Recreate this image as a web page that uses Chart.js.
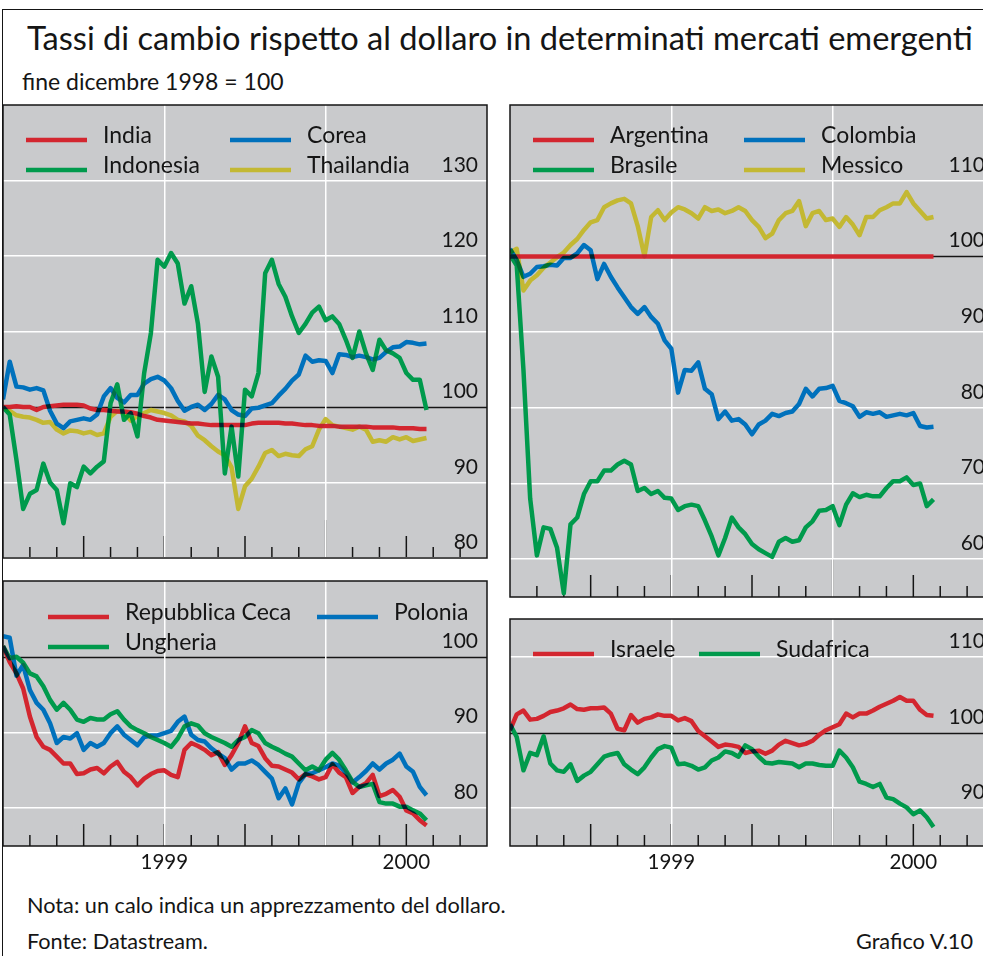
<!DOCTYPE html>
<html lang="it">
  <head>
    <meta charset="UTF-8" />
    <title>Tassi di cambio rispetto al dollaro</title>
    <style>
      html,
      body {
        margin: 0;
        padding: 0;
        width: 983px;
        height: 956px;
        overflow: hidden;
        background: #fff;
        font-family: Lato, sans-serif;
        color: #151515;
      }
      .frame {
        position: absolute;
        left: 2px;
        top: 9px;
        width: 1100px;
        height: 1100px;
        border: 1.5px solid #151515;
      }
      .txt {
        position: absolute;
        white-space: nowrap;
        line-height: 1;
      }
      canvas {
        position: absolute;
      }
    </style>
  </head>
  <body>
    <div class="frame"></div>
    <div class="txt" style="left: 27px; top: 21.5px; font-size: 32.6px">
      Tassi di cambio rispetto al dollaro in determinati mercati emergenti
    </div>
    <div class="txt" style="left: 22px; top: 70px; font-size: 23px">fine dicembre 1998 = 100</div>

    <canvas id="asia" width="492" height="461" style="left: -1px; top: 101px"></canvas>
    <canvas id="latam" width="492" height="500" style="left: 506px; top: 101px"></canvas>
    <canvas id="europa" width="492" height="303" style="left: -1px; top: 577px"></canvas>
    <canvas id="altri" width="492" height="265" style="left: 506px; top: 615px"></canvas>

    <div class="txt" style="left: 27px; top: 894.5px; font-size: 21.7px">
      Nota: un calo indica un apprezzamento del dollaro.
    </div>
    <div class="txt" style="left: 27px; top: 930.5px; font-size: 21.7px">Fonte: Datastream.</div>
    <div class="txt" style="right: 10px; top: 930.5px; font-size: 21.7px">Grafico V.10</div>

    <script src="https://cdn.jsdelivr.net/npm/chart.js"></script>
    <script>
      // months since end of December 1998, one point a week
      const weeks = [
        0, 0.25, 0.5, 0.75, 1, 1.25, 1.5, 1.75, 2, 2.25, 2.5, 2.75, 3, 3.25, 3.5, 3.75,
        4, 4.25, 4.5, 4.75, 5, 5.25, 5.5, 5.75, 6, 6.25, 6.5, 6.75, 7, 7.25, 7.5, 7.75,
        8, 8.25, 8.5, 8.75, 9, 9.25, 9.5, 9.75, 10, 10.25, 10.5, 10.75, 11, 11.25, 11.5, 11.75,
        12, 12.25, 12.5, 12.75, 13, 13.25, 13.5, 13.75, 14, 14.25, 14.5, 14.75, 15, 15.25, 15.5, 15.75,
      ];

      // Asia
      const india = [
        100, 100, 100.1, 100, 100, 99.6, 100, 100.1,
        100.2, 100.3, 100.3, 100.3, 100.2, 99.8, 99.6, 99.6,
        99.5, 99.4, 99.4, 99.3, 99.1, 98.8, 98.6, 98.3,
        98.2, 98.1, 98.0, 97.9, 97.8, 97.8, 97.7, 97.6,
        97.6, 97.6, 97.6, 97.6, 97.6, 97.8, 97.9, 97.9,
        97.9, 97.9, 97.8, 97.8, 97.7, 97.6, 97.6, 97.5,
        97.5, 97.5, 97.4, 97.4, 97.4, 97.4, 97.4, 97.3,
        97.3, 97.3, 97.3, 97.2, 97.2, 97.2, 97.1, 97.1,
      ];
      const corea = [
        101.0, 106.0, 102.7, 102.6, 102.3, 102.5, 102.2, 99.5,
        97.8, 97.2, 98.1, 98.3, 98.5, 98.3, 99.0, 101.4,
        102.5, 101.2, 100.6, 101.6, 101.6, 103.1, 103.7, 104.0,
        103.5, 102.5, 100.8, 99.5, 100.0, 100.3, 99.6, 100.4,
        101.6, 101.0, 99.6, 99.0, 98.8, 99.8, 99.9, 100.2,
        100.5, 101.5, 102.4, 103.5, 104.3, 106.8, 106.0, 106.2,
        106.1, 104.5, 107.0, 106.9, 106.6, 106.8, 106.6, 106.3,
        106.5, 107.3, 107.9, 108.0, 108.6, 108.5, 108.3, 108.4,
      ];
      const indonesia = [
        100, 99, 93, 86.5, 88.5, 89, 92.5, 90,
        89, 84.6, 89.9, 89.4, 92.1, 91.2, 92.1, 92.8,
        100.5, 103, 98.3, 99.2, 96.1, 104.5, 109.8, 119.5,
        118.6, 120.4, 119, 113.7, 116, 111, 102, 106.7,
        104, 91.2, 97.4, 90.8, 102.3, 101.4, 104.5, 117.7,
        119.5, 116.3, 114.6, 112, 109.8, 111, 112.5, 113.3,
        111.5, 112, 111, 108.9, 106.5, 110, 107.1, 104.9,
        108.9, 107.5, 107.1, 106.5, 104.5, 103.6, 103.6, 99.6,
      ];
      const thailandia = [
        100, 99.5, 98.9, 98.7, 98.6, 98.3, 97.9, 98.0,
        97.0, 96.5, 96.9, 96.8, 96.5, 96.7, 96.3, 96.5,
        98.7, 99.5, 99.2, 98.2, 98.8, 99.2, 99.6, 99.4,
        99.2, 98.9, 98.3, 98.1, 97.5, 96.2, 95.6, 94.8,
        94.1, 93.6, 92.0, 86.5, 89.5, 90.5, 92.1, 93.9,
        94.3, 93.5, 93.8, 93.6, 93.5, 94.4, 94.8, 97.0,
        98.4, 97.6, 97.4, 97.2, 97.0, 97.4, 97.0, 95.4,
        95.6, 95.4, 96.0, 95.7, 96.0, 95.5, 95.7, 95.9,
      ];

      // America latina
      const argentina = [
        100, 100, 100, 100, 100, 100, 100, 100,
        100, 100, 100, 100, 100, 100, 100, 100,
        100, 100, 100, 100, 100, 100, 100, 100,
        100, 100, 100, 100, 100, 100, 100, 100,
        100, 100, 100, 100, 100, 100, 100, 100,
        100, 100, 100, 100, 100, 100, 100, 100,
        100, 100, 100, 100, 100, 100, 100, 100,
        100, 100, 100, 100, 100, 100, 100, 100,
      ];
      const colombia = [
        101, 99.5, 97.3, 97.7, 98.6, 98.7, 98.9, 98.8,
        99.8, 99.8, 100.4, 101.5, 100.8, 97, 99, 97.3,
        95.9, 94.6, 93.3, 92.4, 93.3, 92, 91.1, 88.9,
        87.8, 82, 85, 84.9, 86, 82.5, 81.8, 78.5,
        79.5, 78.3, 78.5, 77.8, 76.5, 77.8, 78.3, 79.2,
        78.9, 79.3, 79.5, 80.5, 82.5, 81.5, 82.5, 82.6,
        82.9, 80.9, 80.6, 80.2, 78.8, 79.4, 79.2, 79.4,
        78.8, 79.0, 79.2, 79.0, 79.3, 77.6, 77.4, 77.5,
      ];
      const brasile = [
        100.2, 98.8, 85, 68, 60.5, 64.2, 64, 61.5,
        55.5, 64.6, 65.5, 68.6, 70.3, 70.3, 71.7, 71.7,
        72.5, 73, 72.5, 69, 69.4, 68.6, 69, 68.1,
        68, 66.5, 67, 67.2, 67, 65.1, 63, 60.5,
        62.8, 65.5, 64.2, 63.3, 62, 61.3, 60.8, 60.3,
        62.3, 62.8, 62.3, 62.5, 64.2, 65, 66.4, 66.5,
        67, 64.5, 67.2, 68.7, 68.2, 68.5, 68.3, 68.3,
        69.4, 70.3, 70.3, 70.8, 69.8, 70, 67, 67.9,
      ];
      const messico = [
        100.5, 101, 95.5, 96.8, 97.5, 98.5, 99.2, 99.9,
        100.5, 101.5, 102.3, 103.5, 104.5, 104.8, 106.5, 107,
        107.4, 107.6, 107, 104, 100, 105.2, 106.1, 104.8,
        105.8, 106.5, 106.2, 105.7, 105, 106.5, 106, 106.2,
        105.7, 106, 106.5, 106, 104.8, 103.9, 102.4, 103,
        104.8, 105.7, 106, 107.3, 104, 105.7, 106, 104.8,
        105, 103.9, 105.2, 104.2, 102.8, 105.2, 105.2, 106.1,
        106.5, 107, 107, 108.5, 107, 106, 105, 105.2,
      ];

      // Europa centrale
      const repCeca = [
        101.4, 99.3, 97.8, 95.8, 92.1, 89.4, 88.1, 87.7,
        86.8, 85.9, 85.9, 84.5, 84.6, 85.1, 85.3, 84.6,
        85.5, 86.1, 84.8, 84.1, 83.0, 83.9, 84.5, 84.9,
        85.0, 84.4, 84.1, 87.7, 88.6, 88.2, 87.7, 87.0,
        87.4, 85.7, 87.0, 88.6, 90.8, 88.6, 88.2, 86.6,
        85.6, 85.5, 85.1, 84.7, 83.8, 84.5, 84.2, 83.8,
        84.1, 85.8, 84.7, 84.1, 82.0, 82.8, 83.3, 84.4,
        81.6, 81.9, 82.4, 81.5, 79.7, 79.3, 78.4, 77.7,
      ];
      const polonia = [
        102.7, 102.5, 97.5, 98.9, 95.6, 93.9, 93.0, 91.2,
        88.6, 89.4, 89.2, 89.9, 87.7, 88.6, 88.1, 88.6,
        89.9, 90.8, 89.7, 89.0, 88.3, 89.4, 89.6, 89.6,
        89.9, 90.2, 91.4, 92.1, 89.7, 89.0, 88.8, 87.9,
        87.2, 86.6, 85.1, 85.9, 85.9, 86.3, 85.7, 84.8,
        83.9, 81.3, 82.6, 80.5, 83.3, 84.5, 84.6, 85.0,
        85.4, 85.9, 85.6, 84.7, 83.4, 84.1, 84.9, 85.9,
        85.1, 85.9, 86.4, 87.2, 85.5, 84.8, 82.8, 81.7,
      ];
      const ungheria = [
        101.4, 99.8, 100.0, 99.2, 97.8, 97.4, 96.1, 94.3,
        93.0, 93.9, 93.0, 91.7, 91.4, 91.9, 91.7, 91.7,
        92.4, 92.8, 91.7, 90.8, 90.3, 89.9, 89.4, 89.0,
        88.6, 88.1, 89.2, 90.8, 91.2, 90.9, 89.9, 89.4,
        89.0, 88.6, 88.1, 89.0, 89.4, 90.3, 89.9, 88.6,
        88.1, 87.7, 87.2, 86.8, 85.9, 85.0, 85.5, 85.0,
        86.4, 87.3, 86.4, 85.0, 83.5, 82.8, 83.0, 83.2,
        80.8, 80.6, 80.6, 80.2, 80.2, 79.7, 79.3, 78.4,
      ];

      // Israele e Sudafrica
      const israele = [
        100.3, 102.4, 102.9, 101.7, 101.8, 102.2, 102.7, 102.9,
        103.2, 103.7, 103.1, 103.0, 103.2, 103.2, 103.3, 102.5,
        100.5, 100.3, 102.3, 101.3, 101.8, 102.0, 102.4, 102.2,
        102.2, 101.6, 101.9, 101.5, 100.2, 99.5, 98.8, 98.1,
        98.4, 98.3, 98.1, 97.3, 97.5, 97.6, 97.2, 97.6,
        98.4, 98.9, 98.6, 98.3, 98.5, 98.9, 99.7, 100.3,
        100.7, 101.1, 102.5, 102.0, 102.5, 102.5, 102.9, 103.4,
        103.8, 104.2, 104.7, 104.2, 104.2, 103.0, 102.3, 102.2,
      ];
      const sudafrica = [
        101.1, 99.4, 95.0, 97.3, 97.0, 99.5, 95.9, 95.0,
        94.8, 95.8, 93.6, 94.3, 94.8, 95.8, 96.8, 97.1,
        97.3, 95.8, 95.1, 94.5, 95.4, 96.7, 97.8, 98.2,
        98.0, 95.8, 95.9, 95.6, 95.1, 95.4, 96.3, 96.7,
        97.5, 97.3, 96.8, 98.3, 97.8, 96.8, 96.0, 95.9,
        96.1, 96.0, 95.9, 95.4, 95.9, 95.9, 95.7, 95.6,
        95.6, 97.6, 96.7, 95.4, 93.5, 93.2, 92.8, 93.2,
        91.4, 91.2, 90.6, 90.1, 89.2, 89.7, 88.8, 87.5,
      ];

      // axis ticks
      const asiaTicks = [80, 90, 100, 110, 120, 130];
      const latamTicks = [60, 70, 80, 90, 100, 110];
      const europaTicks = [80, 90, 100];
      const altriTicks = [90, 100, 110];
      const monthMarks = [1, 2, 3, 4, 5, 6, 7, 8, 9, 10, 11, 12, 13, 14, 15, 16, 17];
      const gridMonths = [6, 12];
      const yearLabelMonths = [6, 15];
      const yearLabels = ["1999", "2000"];
      const BASE = 100;

      const RED = "#d3262f";
      const GREEN = "#009a4c";
      const BLUE = "#0071bc";
      const YELLOW = "#c3b833";
      const PANEL_BG = "#c9cacc";
      const INK = "#151515";
      const FONT = "Lato";

      // Series are drawn with "darken" on a still-transparent plot so crossings
      // print dark, then everything else inside the panel is slid underneath.
      const panelDecor = {
        id: "panelDecor",
        beforeDatasetsDraw(chart) {
          chart.ctx.globalCompositeOperation = "darken";
        },
        afterDatasetsDraw(chart) {
          const { ctx, chartArea: a, scales } = chart;
          const x = scales.x;
          const y = scales.y;
          ctx.save();
          ctx.globalCompositeOperation = "destination-over";

          ctx.fillStyle = INK;
          ctx.font = "21px " + FONT;
          ctx.textAlign = "right";
          ctx.textBaseline = "alphabetic";
          y.ticks.forEach((t) => {
            ctx.fillText(String(t.value), a.right - 9, y.getPixelForValue(t.value) - 9);
          });

          ctx.strokeStyle = INK;
          ctx.lineWidth = 1.5;
          monthMarks.forEach((m) => {
            const len = m % 12 === 0 ? 38 : m % 3 === 0 ? 22 : 11;
            const px = x.getPixelForValue(m);
            ctx.beginPath();
            ctx.moveTo(px, a.bottom);
            ctx.lineTo(px, a.bottom - len);
            ctx.stroke();
          });

          const by = Math.round(y.getPixelForValue(BASE)) + 0.5;
          ctx.lineWidth = 1.3;
          ctx.beginPath();
          ctx.moveTo(a.left, by);
          ctx.lineTo(a.right, by);
          ctx.stroke();

          ctx.fillStyle = PANEL_BG;
          ctx.fillRect(a.left, a.top, a.width, a.height);
          ctx.restore();
          ctx.globalCompositeOperation = "source-over";
        },
        afterDraw(chart, args, opts) {
          const { ctx, chartArea: a } = chart;
          ctx.save();
          ctx.font = "23px " + FONT;
          ctx.textAlign = "left";
          ctx.textBaseline = "alphabetic";
          chart.data.datasets.forEach((ds, i) => {
            const sx = a.left + opts.cols[i % 2];
            const sy = a.top + opts.rows[Math.floor(i / 2)];
            ctx.strokeStyle = ds.borderColor;
            ctx.lineWidth = 4.5;
            ctx.lineCap = "butt";
            ctx.beginPath();
            ctx.moveTo(sx, sy);
            ctx.lineTo(sx + 61, sy);
            ctx.stroke();
            ctx.fillStyle = INK;
            ctx.fillText(ds.label, sx + 77, sy + 2.7);
          });
          ctx.strokeStyle = INK;
          ctx.lineWidth = 1.5;
          ctx.strokeRect(a.left, a.top, a.width, a.height);
          ctx.restore();
        },
      };

      function panel(id, cfg) {
        const withYears = cfg.withYears;
        return new Chart(document.getElementById(id), {
          type: "line",
          data: {
            datasets: cfg.series.map((s) => ({
              label: s.label,
              data: weeks.map((m, i) => ({ x: m, y: s.values[i] })),
              borderColor: s.color,
              borderWidth: 4.5,
              borderJoinStyle: "round",
              pointRadius: 0,
              tension: 0,
              fill: false,
            })),
          },
          options: {
            responsive: false,
            animation: false,
            events: [],
            layout: { padding: 4 },
            plugins: {
              legend: { display: false },
              tooltip: { enabled: false },
              panelDecor: { cols: cfg.legendCols, rows: cfg.legendRows },
            },
            scales: {
              x: {
                type: "linear",
                min: 0,
                max: 18,
                afterBuildTicks: (sc) => {
                  const at = withYears ? gridMonths.concat([15]) : gridMonths;
                  sc.ticks = at.map((v) => ({ value: v }));
                },
                afterFit: (sc) => {
                  sc.height = withYears ? 30 : 0;
                },
                border: { display: false },
                grid: {
                  drawTicks: false,
                  lineWidth: 1.5,
                  color: (c) => (c.tick && gridMonths.includes(c.tick.value) ? "#ffffff" : "rgba(0,0,0,0)"),
                },
                ticks: {
                  display: withYears,
                  autoSkip: false,
                  maxRotation: 0,
                  padding: 4,
                  color: INK,
                  font: { family: FONT, size: 20.5 },
                  callback: (v) => {
                    const k = yearLabelMonths.indexOf(v);
                    return k >= 0 ? yearLabels[k] : "";
                  },
                },
              },
              y: {
                type: "linear",
                min: cfg.min,
                max: cfg.max,
                afterBuildTicks: (sc) => {
                  sc.ticks = cfg.ticks.map((v) => ({ value: v }));
                },
                border: { display: false },
                grid: {
                  drawTicks: false,
                  lineWidth: 1.5,
                  color: (c) => (c.tick && c.tick.value === BASE ? "rgba(0,0,0,0)" : "#ffffff"),
                },
                ticks: { display: false },
              },
            },
          },
          plugins: [panelDecor],
        });
      }

      panel("asia", {
        min: 80,
        max: 140,
        ticks: asiaTicks,
        withYears: false,
        legendCols: [23, 227],
        legendRows: [35, 65],
        series: [
          { label: "India", values: india, color: RED },
          { label: "Corea", values: corea, color: BLUE },
          { label: "Indonesia", values: indonesia, color: GREEN },
          { label: "Thailandia", values: thailandia, color: YELLOW },
        ],
      });

      panel("latam", {
        min: 55,
        max: 120,
        ticks: latamTicks,
        withYears: false,
        legendCols: [23, 234],
        legendRows: [35, 65],
        series: [
          { label: "Argentina", values: argentina, color: RED },
          { label: "Colombia", values: colombia, color: BLUE },
          { label: "Brasile", values: brasile, color: GREEN },
          { label: "Messico", values: messico, color: YELLOW },
        ],
      });

      panel("europa", {
        min: 75,
        max: 110,
        ticks: europaTicks,
        withYears: true,
        legendCols: [45, 314],
        legendRows: [36, 66],
        series: [
          { label: "Repubblica Ceca", values: repCeca, color: RED },
          { label: "Polonia", values: polonia, color: BLUE },
          { label: "Ungheria", values: ungheria, color: GREEN },
        ],
      });

      panel("altri", {
        min: 85,
        max: 115,
        ticks: altriTicks,
        withYears: true,
        legendCols: [23, 189],
        legendRows: [35],
        series: [
          { label: "Israele", values: israele, color: RED },
          { label: "Sudafrica", values: sudafrica, color: GREEN },
        ],
      });
    </script>
  </body>
</html>
